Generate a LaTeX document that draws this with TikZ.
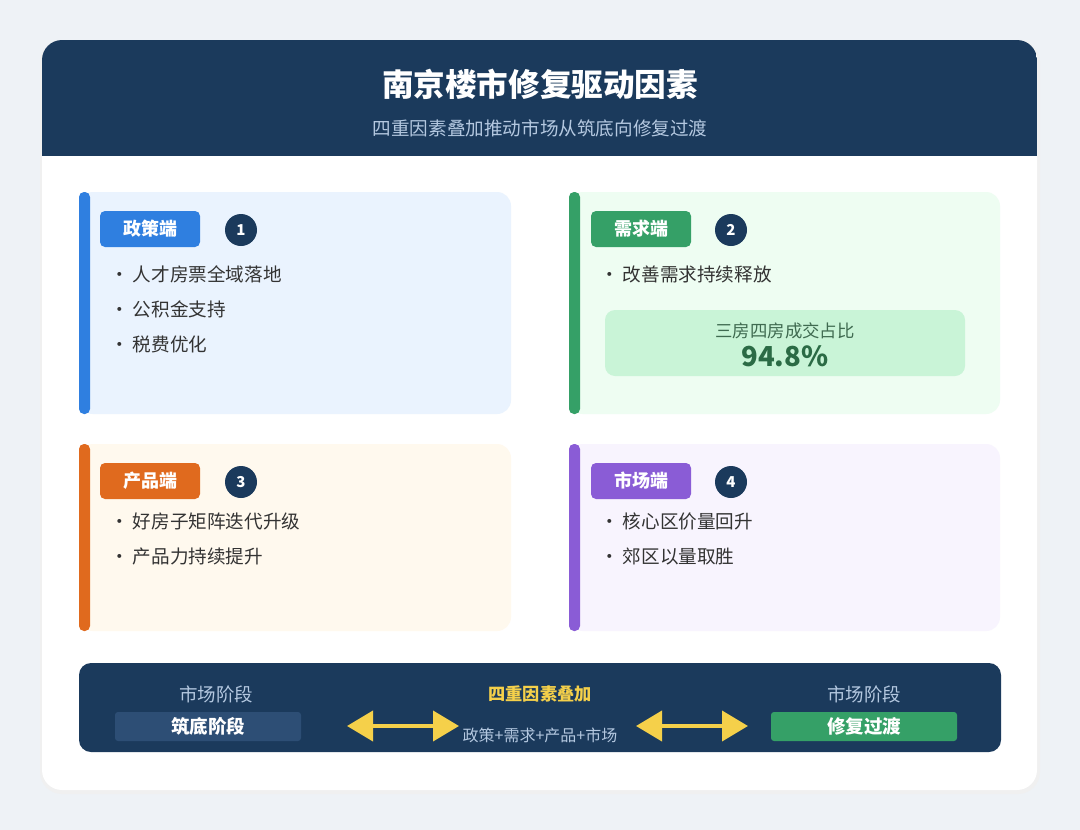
\documentclass[tikz,border=0pt]{standalone}
\usepackage{fontspec}
\setmainfont{Noto Sans CJK SC}
\usetikzlibrary{arrows.meta}
\definecolor{bgc}{HTML}{EEF2F6}
\definecolor{navy}{HTML}{1B3A5C}
\definecolor{subc}{HTML}{B4C8E0}
\definecolor{bluec}{HTML}{2F7FE0}
\definecolor{bluef}{HTML}{EAF3FE}
\definecolor{greenc}{HTML}{35A067}
\definecolor{greenf}{HTML}{EEFDF2}
\definecolor{orangec}{HTML}{E06A1E}
\definecolor{orangef}{HTML}{FFF9EE}
\definecolor{purplec}{HTML}{8A5CD6}
\definecolor{purplef}{HTML}{F8F4FE}
\definecolor{textc}{HTML}{333333}
\definecolor{statf}{HTML}{C9F4D7}
\definecolor{statt}{HTML}{2B6B45}
\definecolor{statl}{HTML}{3F6A50}
\definecolor{yellowc}{HTML}{F5D04A}
\definecolor{stagef}{HTML}{2D4E75}
\tikzset{
  panel/.style={rounded corners=14pt},
  tagbox/.style={rounded corners=5pt, minimum width=100pt, minimum height=36pt, inner sep=0pt, text=white, font=\bfseries\fontsize{18}{20}\selectfont},
  numc/.style={circle, fill=navy, minimum size=32pt, inner sep=0pt, text=white, font=\bfseries\fontsize{15}{17}\selectfont},
  bullet/.style={anchor=west, inner sep=0pt, text=textc, font=\fontsize{18.6}{21}\selectfont},
  stagelbl/.style={inner sep=0pt, text=subc, font=\fontsize{18.5}{21}\selectfont},
  stagebox/.style={rounded corners=3pt, minimum width=186pt, minimum height=29pt, inner sep=0pt, text=white, font=\bfseries\fontsize{18.5}{21}\selectfont},
  dblarrow/.style={draw=yellowc, line width=4pt, {Triangle[width=30pt,length=26pt]}-{Triangle[width=30pt,length=26pt]}}
}
\begin{document}
\begin{tikzpicture}[x=1pt,y=-1pt]
\useasboundingbox (0,0) rectangle (1080,830);
\fill[bgc] (0,0) rectangle (1080,830);
% card
\fill[black!6, rounded corners=22pt] (40,40) rectangle (1040,794);
\fill[white, rounded corners=20pt] (42,40) rectangle (1037,790);
\begin{scope}
\clip[rounded corners=20pt] (42,40) rectangle (1037,790);
\fill[navy] (42,40) rectangle (1037,156);
\end{scope}
\node[text=white, font=\bfseries\fontsize{31.6}{36}\selectfont, inner sep=0pt] (title) at (540,84) {南京楼市修复驱动因素};
\node[text=subc, font=\fontsize{18.6}{21}\selectfont, inner sep=0pt] (subtitle) at (540,128) {四重因素叠加推动市场从筑底向修复过渡};

% panel 1
\fill[bluef, panel] (79,192) rectangle (511,414);
\fill[bluec, rounded corners=5pt] (79,192) rectangle (90,414);
\node[tagbox, fill=bluec] (tag1) at (150,229) {政策端};
\node[numc] (n1) at (241,230) {1};
\node[bullet] (b11) at (110,274) {· 人才房票全域落地};
\node[bullet] (b12) at (110,309) {· 公积金支持};
\node[bullet] (b13) at (110,344) {· 税费优化};

% panel 2
\fill[greenf, panel] (569,192) rectangle (1000,414);
\fill[greenc, rounded corners=5pt] (569,192) rectangle (580,414);
\node[tagbox, fill=greenc] (tag2) at (641,229) {需求端};
\node[numc] (n2) at (731,230) {2};
\node[bullet] (b21) at (600,274) {· 改善需求持续释放};
\fill[statf, rounded corners=10pt] (605,310) rectangle (965,376);
\node[inner sep=0pt, text=statl, font=\fontsize{17.4}{20}\selectfont] (statlbl) at (785,331) {三房四房成交占比};
\node[inner sep=0pt, text=statt, font=\bfseries\fontsize{27.5}{30}\selectfont] (statval) at (785,356) {94.8\%};

% panel 3
\fill[orangef, panel] (79,444) rectangle (511,631);
\fill[orangec, rounded corners=5pt] (79,444) rectangle (90,631);
\node[tagbox, fill=orangec] (tag3) at (150,481) {产品端};
\node[numc] (n3) at (241,482) {3};
\node[bullet] (b31) at (110,521) {· 好房子矩阵迭代升级};
\node[bullet] (b32) at (110,556) {· 产品力持续提升};

% panel 4
\fill[purplef, panel] (569,444) rectangle (1000,631);
\fill[purplec, rounded corners=5pt] (569,444) rectangle (580,631);
\node[tagbox, fill=purplec] (tag4) at (641,481) {市场端};
\node[numc] (n4) at (731,482) {4};
\node[bullet] (b41) at (600,521) {· 核心区价量回升};
\node[bullet] (b42) at (600,556) {· 郊区以量取胜};

% bottom bar
\fill[navy, rounded corners=12pt] (79,663) rectangle (1001,752);
\node[stagelbl] (sl1) at (216,694) {市场阶段};
\node[stagebox, fill=stagef] (s1) at (208,726.5) {筑底阶段};
\node[inner sep=0pt, text=yellowc, font=\bfseries\fontsize{17.2}{20}\selectfont] (four) at (540,694) {四重因素叠加};
\node[inner sep=0pt, text=subc, font=\fontsize{16}{18}\selectfont] (combo) at (540,735) {政策+需求+产品+市场};
\node[stagelbl] (sl2) at (864,694) {市场阶段};
\node[stagebox, fill=greenc] (s2) at (864,726.5) {修复过渡};
\coordinate (a1l) at (347,726);
\coordinate (a1r) at (459,726);
\coordinate (a2l) at (636,726);
\coordinate (a2r) at (748,726);
\draw[dblarrow] (a1l) -- (a1r);
\draw[dblarrow] (a2l) -- (a2r);
\end{tikzpicture}
\end{document}
